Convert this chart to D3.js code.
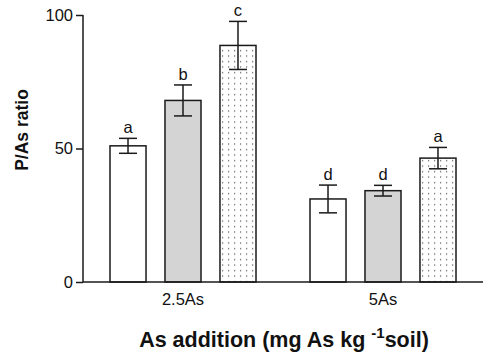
<!DOCTYPE html>
<html>
<head>
<meta charset="utf-8">
<script src="https://cdn.jsdelivr.net/npm/d3@7"></script>
<style>
  body { margin: 0; background: #fff; }
  svg { display: block; font-family: Arial, "Liberation Sans", sans-serif; }
</style>
</head>
<body>
<div id="chart"></div>
<script>
const width = 491
const height = 358
const margins = { top: 15, bottom: 76, left: 83, right: 8 }

// data
const groups = ['2.5As', '5As']
const series = ['s1', 's2', 's3']
const means = [[51, 68, 88.6], [31.1, 34.2, 46.4]]
const errors = [[2.8, 5.8, 9], [5.2, 2, 4]]
const letters = [['a', 'b', 'c'], ['d', 'd', 'a']]
const yTicks = [0, 50, 100]

let svg = d3.select('div#chart').append('svg').attr('width', width).attr('height', height)

// dotted pattern for third series
let defs = svg.append('defs')
let pat = defs.append('pattern').attr('id', 'dots').attr('patternUnits', 'userSpaceOnUse')
    .attr('width', 6).attr('height', 5.5)
pat.append('rect').attr('width', 6).attr('height', 5.5).attr('fill', '#fff')
pat.append('rect').attr('x', 2).attr('y', 2).attr('width', 1.2).attr('height', 1.2).attr('fill', '#555')

const fills = { s1: '#ffffff', s2: '#d4d4d4', s3: 'url(#dots)' }

const innerW = width - margins.left - margins.right
const innerH = height - margins.top - margins.bottom

let x0 = d3.scaleBand().domain(groups).range([0, innerW]).paddingInner(0.27).paddingOuter(0.135)
let x1 = d3.scaleBand().domain(series).range([0, x0.bandwidth()]).paddingInner(0.345)
let y = d3.scaleLinear().domain([0, 100]).range([innerH, 0])

let g = svg.append('g').attr('transform', `translate(${margins.left}, ${margins.top})`)

let rows = []
groups.forEach((gr, i) => series.forEach((s, j) => {
    rows.push({ group: gr, s: s, v: means[i][j], e: errors[i][j], l: letters[i][j] })
}))

let bars = g.selectAll('g.bar').data(rows).enter().append('g').attr('class', 'bar')
    .attr('transform', d => `translate(${x0(d.group) + x1(d.s)}, 0)`)

bars.append('rect')
    .attr('x', 0).attr('width', x1.bandwidth())
    .attr('y', d => y(d.v)).attr('height', d => y(0) - y(d.v))
    .attr('fill', d => fills[d.s])
    .attr('stroke', '#1a1a1a').attr('stroke-width', 1.5)

let cx = x1.bandwidth() / 2
let capW = 9
bars.append('line').attr('x1', cx).attr('x2', cx)
    .attr('y1', d => y(d.v + d.e)).attr('y2', d => y(d.v - d.e))
    .attr('stroke', '#1a1a1a').attr('stroke-width', 1.5)
bars.append('line').attr('x1', cx - capW).attr('x2', cx + capW)
    .attr('y1', d => y(d.v + d.e)).attr('y2', d => y(d.v + d.e))
    .attr('stroke', '#1a1a1a').attr('stroke-width', 1.5)
bars.append('line').attr('x1', cx - capW).attr('x2', cx + capW)
    .attr('y1', d => y(d.v - d.e)).attr('y2', d => y(d.v - d.e))
    .attr('stroke', '#1a1a1a').attr('stroke-width', 1.5)

bars.append('text').attr('x', cx).attr('y', d => y(d.v + d.e) - 5)
    .attr('text-anchor', 'middle').attr('font-size', 16.5).attr('fill', '#111')
    .text(d => d.l)

// axes
let yAxis = d3.axisLeft(y).tickValues(yTicks).tickSize(7).tickPadding(3)
let yAxisGroup = g.append('g').call(yAxis)
yAxisGroup.select('.domain').attr('d', `M0,${y(100)}V${y(0)}`)

let xAxis = d3.axisBottom(x0).tickSize(0).tickPadding(11)
let xAxisGroup = g.append('g').attr('transform', `translate(0, ${innerH})`).call(xAxis)
xAxisGroup.select('.domain').attr('d', `M0,0H${innerW}`)

svg.selectAll('.domain').attr('stroke', '#1a1a1a').attr('stroke-width', 1.5)
svg.selectAll('.tick line').attr('stroke', '#1a1a1a').attr('stroke-width', 1.5)
svg.selectAll('.tick text').attr('font-size', 16.5).attr('fill', '#111')
    .attr('font-family', 'Arial, "Liberation Sans", sans-serif')

// titles
svg.append('text')
    .attr('transform', `translate(28, 130) rotate(-90)`)
    .attr('text-anchor', 'middle')
    .attr('font-size', 17.5).attr('font-weight', 'bold').attr('fill', '#111')
    .text('P/As ratio')

let xt = svg.append('text').attr('x', 284).attr('y', 347).attr('text-anchor', 'middle')
    .attr('font-size', 21.5).attr('font-weight', 'bold').attr('fill', '#111')
xt.append('tspan').text('As addition (mg As kg ')
xt.append('tspan').attr('dy', -9).attr('font-size', 15).text('-1')
xt.append('tspan').attr('dy', 9).text('soil)')
</script>
</body>
</html>
